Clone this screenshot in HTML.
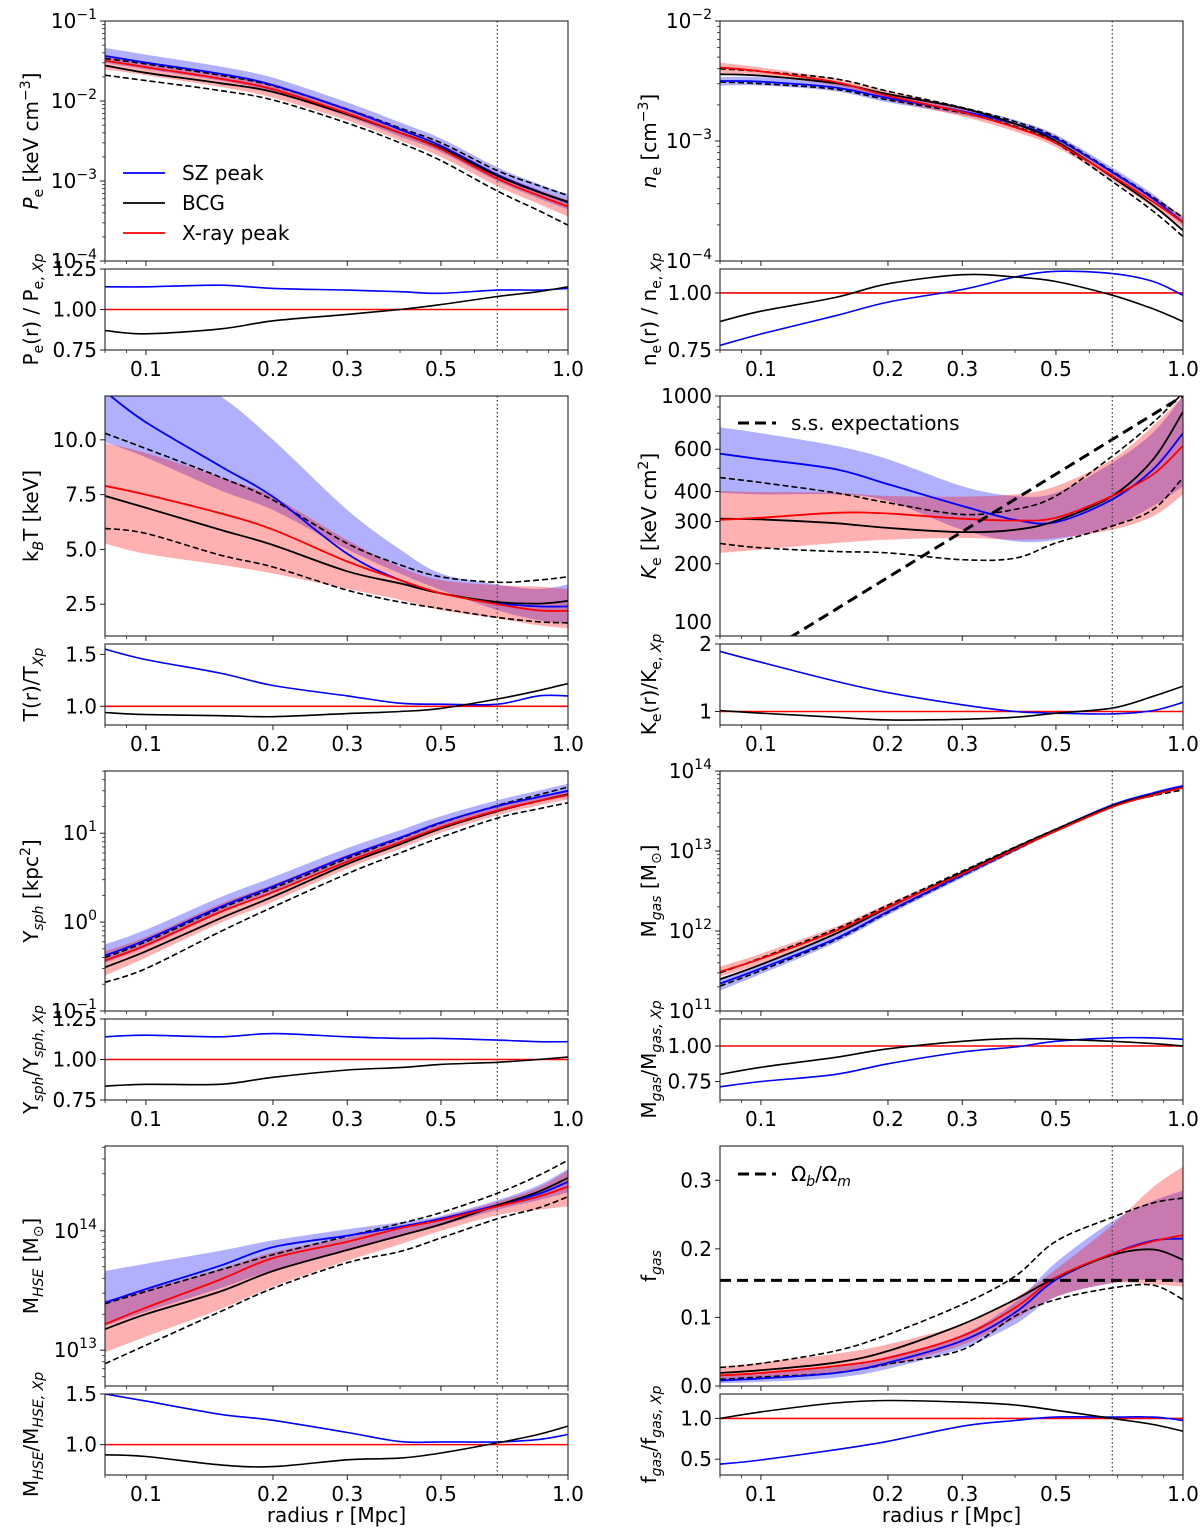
<!DOCTYPE html>
<html><head><meta charset="utf-8"><style>
html,body{margin:0;padding:0;background:#fff;}
svg{display:block;font-family:"DejaVu Sans","Liberation Sans",sans-serif;}
</style></head><body>
<svg id="fig" xmlns="http://www.w3.org/2000/svg" width="1200" height="1530" viewBox="0 0 1200 1530"></svg>
<script>
const R = [0.08,0.1,0.15,0.2,0.3,0.4,0.5,0.68,0.85,1.0];
const r500 = [0.68];
// Pressure
const pe_xp = [0.032,0.0265,0.019,0.014,0.0070,0.0040,0.0025,0.00107,0.00066,0.00048];
const pe_sz = [0.0365,0.0302,0.0219,0.0158,0.0078,0.0044,0.00275,0.0012,0.00074,0.00054];
const pe_bcg = [0.0278,0.0225,0.0167,0.013,0.0068,0.004,0.00258,0.00116,0.00073,0.00055];
const pe_dhi = [0.034,0.029,0.021,0.0155,0.0079,0.0046,0.003,0.00135,0.00088,0.00066];
const pe_dlo = [0.021,0.018,0.0135,0.0103,0.0053,0.003,0.0018,0.00075,0.00043,0.00028];
const pe_bhi = [0.046,0.038,0.027,0.0195,0.0096,0.0054,0.0034,0.00148,0.00092,0.00068];
const pe_blo = [0.03,0.025,0.018,0.013,0.0064,0.0036,0.0023,0.001,0.00061,0.00044];
const pe_rhi = [0.038,0.031,0.022,0.0163,0.0082,0.0047,0.0029,0.00125,0.00078,0.00058];
const pe_rlo = [0.025,0.021,0.015,0.011,0.0057,0.0032,0.002,0.00086,0.00052,0.00036];
const pe_rsz = [1.14,1.14,1.15,1.13,1.12,1.11,1.10,1.12,1.12,1.13];
const pe_rbcg = [0.87,0.85,0.88,0.93,0.97,1.0,1.03,1.08,1.11,1.14];
// Density
const ne_xp = [0.0041,0.0038,0.0031,0.00237,0.00174,0.0013,0.00096,0.00051,0.00031,0.00021];
const ne_sz = [0.00316,0.00312,0.00279,0.00228,0.00177,0.00139,0.00105,0.00055,0.00033,0.00021];
const ne_bcg = [0.0036,0.0035,0.00304,0.00246,0.00188,0.00139,0.001,0.0005,0.00029,0.00018];
const ne_dhi = [0.0040,0.0038,0.0033,0.0026,0.0019,0.00145,0.00108,0.00056,0.00034,0.00023];
const ne_dlo = [0.0031,0.003,0.0027,0.0022,0.00172,0.00132,0.00096,0.00046,0.00026,0.00016];
const ne_bhi = [0.0034,0.0034,0.003,0.00245,0.0019,0.0015,0.00113,0.0006,0.00036,0.00023];
const ne_blo = [0.0029,0.0029,0.0026,0.0021,0.00165,0.0013,0.00097,0.00051,0.00031,0.0002];
const ne_rhi = [0.0045,0.0041,0.0033,0.0026,0.0019,0.0014,0.00103,0.00055,0.00034,0.00024];
const ne_rlo = [0.0037,0.0035,0.0029,0.0022,0.0016,0.0012,0.00089,0.00047,0.00028,0.00019];
const ne_rsz = [0.77,0.82,0.90,0.96,1.015,1.07,1.095,1.085,1.05,0.99];
const ne_rbcg = [0.875,0.92,0.98,1.04,1.08,1.07,1.05,0.99,0.93,0.875];
// Temperature
const t_xp = [7.9,7.5,6.65,5.9,4.45,3.6,3.0,2.5,2.22,2.2];
const t_sz = [12.2,10.8,8.8,7.4,4.8,3.6,3.0,2.55,2.4,2.4];
const t_bcg = [7.44,6.9,5.9,5.2,4.0,3.45,3.0,2.6,2.53,2.65];
const t_dhi = [10.3,9.6,8.3,7.25,5.27,4.3,3.75,3.5,3.6,3.75];
const t_dlo = [5.96,5.73,4.74,4.2,3.14,2.6,2.3,1.9,1.7,1.65];
const t_bhi = [14,14,12,10.0,6.8,5.0,3.9,3.4,3.2,3.4];
const t_blo = [9.9,9.2,7.7,6.8,5.0,3.9,3.15,2.23,1.77,1.6];
const t_rhi = [9.85,9.4,8.3,7.4,5.43,4.2,3.6,3.37,3.3,3.2];
const t_rlo = [5.27,4.8,4.3,3.9,3.2,2.7,2.23,1.85,1.54,1.4];
const t_rsz = [1.55,1.45,1.32,1.2,1.1,1.03,1.02,1.02,1.1,1.1];
const t_rbcg = [0.94,0.92,0.91,0.9,0.93,0.95,0.98,1.07,1.15,1.22];
// Entropy
const k_xp = [305,311,326,324,308,303,311,383,472,620];
const k_sz = [575,545,496,429,348,305,298,371,495,700];
const k_bcg = [308,306,295,282,271,277,302,383,545,859];
const k_dhi = [457,436,395,359,321,337,383,562,776,1030];
const k_dlo = [243,233,225,222,208,211,244,287,337,457];
const k_bhi = [740,700,620,545,421,383,395,527,705,1000];
const k_blo = [395,389,389,365,277,248,252,287,348,421];
const k_rhi = [402,398,395,383,381,389,421,545,751,1000];
const k_rlo = [222,229,244,252,256,252,256,277,316,389];
const k_rsz = [1.89,1.73,1.45,1.28,1.1,1.0,0.975,0.965,1.015,1.135];
const k_rbcg = [1.015,0.975,0.915,0.875,0.885,0.915,0.975,1.05,1.225,1.375];
const ss_r = [0.1,1.0];
const ss_k = [83,1000];
// Ysph
const y_xp = [0.37,0.55,1.3,2.17,4.8,7.9,11.7,18,23,27];
const y_sz = [0.42,0.63,1.48,2.52,5.47,8.9,13.2,20.2,25.5,30];
const y_bcg = [0.31,0.47,1.1,1.93,4.5,7.5,11.3,17.7,23,27.4];
const y_dhi = [0.40,0.6,1.42,2.4,5.2,8.7,13,20.5,27,33];
const y_dlo = [0.21,0.3,0.78,1.48,3.5,6.0,9.0,14.8,18.8,22];
const y_bhi = [0.56,0.82,1.9,3.2,6.8,10.8,15.6,23.5,30,36];
const y_blo = [0.35,0.52,1.25,2.15,4.7,7.7,11.5,17.7,22.5,26];
const y_rhi = [0.47,0.68,1.6,2.65,5.7,9.2,13.5,20.5,26,30];
const y_rlo = [0.25,0.4,0.98,1.7,4.0,6.7,10.1,16,20.5,24];
const y_rsz = [1.14,1.15,1.14,1.16,1.14,1.13,1.13,1.12,1.11,1.11];
const y_rbcg = [0.836,0.847,0.847,0.89,0.935,0.95,0.97,0.983,1.0,1.015];
// Mgas
const mg_xp = [3.1e11,4.5e11,1.0e12,2.0e12,5.2e12,1.05e13,1.78e13,3.55e13,5.0e13,6.2e13];
const mg_sz = [2.2e11,3.4e11,8e11,1.75e12,5e12,1.04e13,1.84e13,3.75e13,5.3e13,6.5e13];
const mg_bcg = [2.5e11,3.8e11,9.2e11,1.96e12,5.4e12,1.1e13,1.86e13,3.67e13,5.1e13,6.2e13];
const mg_dhi = [3.0e11,4.6e11,1.05e12,2.1e12,5.6e12,1.12e13,1.88e13,3.7e13,5.2e13,6.4e13];
const mg_dlo = [2.05e11,3.2e11,7.7e11,1.7e12,4.9e12,1.02e13,1.8e13,3.6e13,4.9e13,5.8e13];
const mg_bhi = [2.5e11,3.8e11,9e11,1.95e12,5.4e12,1.1e13,1.93e13,3.9e13,5.5e13,6.8e13];
const mg_blo = [1.8e11,2.9e11,7.1e11,1.58e12,4.6e12,9.8e12,1.75e13,3.6e13,5.1e13,6.2e13];
const mg_rhi = [3.6e11,5.2e11,1.13e12,2.2e12,5.5e12,1.09e13,1.84e13,3.65e13,5.15e13,6.4e13];
const mg_rlo = [2.7e11,3.9e11,8.9e11,1.82e12,4.9e12,1.0e13,1.72e13,3.45e13,4.85e13,6.0e13];
const mg_rsz = [0.713,0.75,0.80,0.875,0.958,0.993,1.033,1.057,1.057,1.047];
const mg_rbcg = [0.80,0.85,0.92,0.98,1.033,1.052,1.047,1.033,1.017,1.0];
// MHSE
const mh_xp = [1.65e13,2.27e13,3.9e13,5.9e13,8.1e13,1.05e14,1.23e14,1.6e14,1.93e14,2.34e14];
const mh_sz = [2.5e13,3.25e13,5.1e13,7.3e13,9.1e13,1.08e14,1.26e14,1.64e14,2.03e14,2.57e14];
const mh_bcg = [1.5e13,2.0e13,3.1e13,4.6e13,6.9e13,9.1e13,1.13e14,1.63e14,2.12e14,2.77e14];
const mh_dhi = [2.45e13,3.1e13,4.7e13,6.3e13,9.0e13,1.15e14,1.42e14,2.06e14,2.9e14,3.9e14];
const mh_dlo = [7.7e12,1.1e13,2.1e13,3.3e13,5.4e13,6.7e13,8.7e13,1.26e14,1.55e14,1.93e14];
const mh_bhi = [4.6e13,5.3e13,6.8e13,8.3e13,1.03e14,1.18e14,1.33e14,1.8e14,2.4e14,3.3e14];
const mh_blo = [1.6e13,2.1e13,3.3e13,4.7e13,7.0e13,9.0e13,1.1e14,1.5e14,1.8e14,2.1e14];
const mh_rhi = [2.6e13,3.2e13,4.8e13,6.6e13,8.8e13,1.1e14,1.3e14,1.75e14,2.3e14,3.2e14];
const mh_rlo = [9.6e12,1.3e13,2.2e13,3.4e13,5.6e13,7.7e13,1.0e14,1.35e14,1.5e14,1.6e14];
const mh_rsz = [1.5,1.43,1.3,1.24,1.12,1.03,1.027,1.027,1.05,1.1];
const mh_rbcg = [0.9,0.883,0.8,0.783,0.85,0.867,0.917,1.017,1.1,1.183];
// fgas
const fg_xp = [0.0155,0.019,0.029,0.041,0.073,0.114,0.158,0.193,0.211,0.22];
const fg_sz = [0.008,0.011,0.019,0.034,0.066,0.107,0.155,0.193,0.212,0.215];
const fg_bcg = [0.019,0.023,0.034,0.051,0.09,0.126,0.158,0.191,0.199,0.184];
const fg_dhi = [0.027,0.033,0.051,0.075,0.119,0.16,0.211,0.246,0.267,0.274];
const fg_dlo = [0.0097,0.013,0.019,0.032,0.053,0.102,0.126,0.143,0.147,0.126];
const fg_bhi = [0.016,0.02,0.028,0.043,0.075,0.122,0.18,0.24,0.27,0.285];
const fg_blo = [0.004,0.006,0.012,0.025,0.055,0.09,0.13,0.15,0.155,0.15];
const fg_rhi = [0.028,0.034,0.047,0.061,0.09,0.128,0.17,0.235,0.29,0.32];
const fg_rlo = [0.009,0.012,0.02,0.03,0.06,0.098,0.13,0.15,0.148,0.145];
const fg_rsz = [0.44,0.49,0.615,0.72,0.905,0.975,1.017,1.017,1.017,0.975];
const fg_rbcg = [1.0,1.08,1.19,1.22,1.2,1.165,1.1,1.0,0.926,0.843];
const omega_ratio = [0.154];
const xMajor = [0.1,0.2,0.3,0.5,1.0];
const xMajorLabels = ['0.1','0.2','0.3','0.5','1.0'];
const xMinor = [0.08,0.09,0.4,0.6,0.7,0.8,0.9];

const NS='http://www.w3.org/2000/svg';
const svg=document.getElementById('fig');
function mk(tag,attrs,parent){const e=document.createElementNS(NS,tag);for(const k in attrs)e.setAttribute(k,attrs[k]);(parent||svg).appendChild(e);return e;}
function pathD(p){let d='M'+p[0][0].toFixed(1)+','+p[0][1].toFixed(1);for(let i=0;i<p.length-1;i++){const p0=p[i-1]||p[i],p1=p[i],p2=p[i+1],p3=p[i+2]||p2;const c1=[p1[0]+(p2[0]-p0[0])/6,p1[1]+(p2[1]-p0[1])/6];const c2=[p2[0]-(p3[0]-p1[0])/6,p2[1]-(p3[1]-p1[1])/6];d+=' C'+c1[0].toFixed(1)+','+c1[1].toFixed(1)+' '+c2[0].toFixed(1)+','+c2[1].toFixed(1)+' '+p2[0].toFixed(1)+','+p2[1].toFixed(1);}return d;}
function pathCont(p){return pathD(p).replace(/^M/,'L');}
function addLabel(el,segs){for(const s of segs){const t=mk('tspan',{},el);t.textContent=s[0];if(s[1]==='sub'){t.setAttribute('font-size','14');t.setAttribute('dy','5');}else if(s[1]==='sup'){t.setAttribute('font-size','14');t.setAttribute('dy','-8');}if(s[2])t.setAttribute('font-style','italic');if(s[1]){const b=mk('tspan',{dy:s[1]==='sub'?'-5':'8'},el);b.textContent='\u200b';}}}

let clipId=0;
function axes(col,top,bot,cfg){
  const x0=col?720:105,x1=col?1183:568;
  const lx0=Math.log10(0.08);
  const X=r=>x0+(Math.log10(r)-lx0)/(0-lx0)*(x1-x0);
  const Y=v=>{const t=cfg.log?Math.log10(v):v;return bot-(t-cfg.lim[0])/(cfg.lim[1]-cfg.lim[0])*(bot-top);};
  const g=mk('g',{});
  
  
  const id='c'+(clipId++);
  const cp=mk('clipPath',{id:id},g);mk('rect',{x:x0,y:top,width:x1-x0,height:bot-top},cp);
  const plot=mk('g',{'clip-path':'url(#'+id+')'},g);
  return {X,Y,g,plot,x0,x1,top,bot};
}
function band(ax,lo,hi,color,name){
  const up=R.map((r,i)=>[ax.X(r),ax.Y(hi[i])]);
  const dn=R.map((r,i)=>[ax.X(r),ax.Y(lo[i])]).reverse();
  const p=mk('path',{d:pathD(up)+' '+pathCont(dn)+' Z',fill:color,stroke:'none'},ax.plot);
  
  
}
function line(ax,xs,vals,color,w,dash,name){
  const pts=xs.map((r,i)=>[ax.X(r),ax.Y(vals[i])]);
  const p=mk('path',{d:pathD(pts),fill:'none',stroke:color,'stroke-width':w},ax.plot);
  if(dash)p.setAttribute('stroke-dasharray',dash);
  
  
}
function hline(ax,v,color,w,dash,name){
  const p=mk('line',{x1:ax.x0,x2:ax.x1,y1:ax.Y(v),y2:ax.Y(v),stroke:color,'stroke-width':w},ax.plot);
  if(dash)p.setAttribute('stroke-dasharray',dash);
  
  
}
function vline(ax){
  const p=mk('line',{x1:ax.X(r500[0]),x2:ax.X(r500[0]),y1:ax.top,y2:ax.bot,stroke:'#444','stroke-width':1.3,'stroke-dasharray':'1.5,2.5'},ax.plot);
  
  
}
function frame(ax,showX){
  const f=mk('rect',{x:ax.x0,y:ax.top,width:ax.x1-ax.x0,height:ax.bot-ax.top,fill:'none',stroke:'#222','stroke-width':1.1},ax.g);
  
  
  for(const r of xMajor){mk('line',{x1:ax.X(r),x2:ax.X(r),y1:ax.bot,y2:ax.bot+5,stroke:'#222','stroke-width':1},ax.g);}
  for(const r of xMinor){mk('line',{x1:ax.X(r),x2:ax.X(r),y1:ax.bot,y2:ax.bot+3,stroke:'#222','stroke-width':0.8},ax.g);}
  if(showX){xMajor.forEach((r,i)=>{const t=mk('text',{x:ax.X(r),y:ax.bot+26,'font-size':20,'text-anchor':'middle'},ax.g);t.textContent=xMajorLabels[i];});}
}
function yticks(ax,cfg){
  if(cfg.log){
    for(let d=Math.floor(cfg.lim[0]);d<=Math.ceil(cfg.lim[1]);d++){for(let m=2;m<=9;m++){const v=m*Math.pow(10,d);const lv=Math.log10(v);if(lv<cfg.lim[0]||lv>cfg.lim[1])continue;if(cfg.ticks.some(t=>Math.abs(Math.log10(t[0])-lv)<1e-6))continue;mk('line',{x1:ax.x0-3,x2:ax.x0,y1:ax.Y(v),y2:ax.Y(v),stroke:'#222','stroke-width':0.8},ax.g);}}
  }
  for(const t of cfg.ticks){
    const y=ax.Y(t[0]);
    mk('line',{x1:ax.x0-5,x2:ax.x0,y1:y,y2:y,stroke:'#222','stroke-width':1},ax.g);
    const tx=mk('text',{x:ax.x0-8,y:y+7+(t[2]||0),'font-size':20,'text-anchor':'end'},ax.g);
    
    
    if(typeof t[1]==='object'){const a=mk('tspan',{},tx);a.textContent='10';const b=mk('tspan',{'font-size':14,dy:-9},tx);b.textContent=t[1][0];}
    else tx.textContent=t[1];
  }
}
function ylabel(ax,col,segs,name){
  const x=col?656:38;const y=(ax.top+ax.bot)/2;
  const t=mk('text',{x:0,y:0,'font-size':20,'text-anchor':'middle',transform:'translate('+x+','+y+') rotate(-90)'},ax.g);
  
  
  addLabel(t,segs);
}
const sci=e=>[e];
const panels=[
 {col:0,row:0,name:'pressure',log:true,lim:[-4,-1],ticks:[[1e-4,sci('\u22124')],[1e-3,sci('\u22123')],[1e-2,sci('\u22122')],[1e-1,sci('\u22121')]],
  d:[pe_xp,pe_sz,pe_bcg,pe_dhi,pe_dlo,pe_bhi,pe_blo,pe_rhi,pe_rlo],rs:[pe_rsz,pe_rbcg],rlim:[0.75,1.25],rticks:[[0.75,'0.75'],[1.0,'1.00'],[1.25,'1.25']],
  lab:[['P','',1],['e','sub'],[' [keV cm'],['\u22123','sup'],[']']],rlab:[['P'],['e','sub'],['(r) / P'],['e, ','sub'],['Xp','sub',1]]},
 {col:1,row:0,name:'density',log:true,lim:[-4,-2],ticks:[[1e-4,sci('\u22124')],[1e-3,sci('\u22123')],[1e-2,sci('\u22122')]],
  d:[ne_xp,ne_sz,ne_bcg,ne_dhi,ne_dlo,ne_bhi,ne_blo,ne_rhi,ne_rlo],rs:[ne_rsz,ne_rbcg],rlim:[0.75,1.105],rticks:[[0.75,'0.75'],[1.0,'1.00']],
  lab:[['n','',1],['e','sub'],[' [cm'],['\u22123','sup'],[']']],rlab:[['n'],['e','sub'],['(r) / n'],['e, ','sub'],['Xp','sub',1]]},
 {col:0,row:1,name:'temperature',log:false,lim:[1.05,12],ticks:[[2.5,'2.5'],[5,'5.0'],[7.5,'7.5'],[10,'10.0']],
  d:[t_xp,t_sz,t_bcg,t_dhi,t_dlo,t_bhi,t_blo,t_rhi,t_rlo],rs:[t_rsz,t_rbcg],rlim:[0.82,1.6],rticks:[[1.0,'1.0'],[1.5,'1.5']],
  lab:[['k'],['B','sub',1],['T [keV]']],rlab:[['T(r)/T'],['Xp','sub',1]]},
 {col:1,row:1,name:'entropy',log:true,lim:[2,3],ticks:[[100,'100',-14],[200,'200'],[300,'300'],[400,'400'],[600,'600'],[1000,'1000']],
  d:[k_xp,k_sz,k_bcg,k_dhi,k_dlo,k_bhi,k_blo,k_rhi,k_rlo],rs:[k_rsz,k_rbcg],rlim:[0.8,2.0],rticks:[[1,'1'],[2,'2']],
  lab:[['K','',1],['e','sub'],[' [keV cm'],['2','sup'],[']']],rlab:[['K'],['e','sub'],['(r)/K'],['e, ','sub'],['Xp','sub',1]]},
 {col:0,row:2,name:'ysph',log:true,lim:[-1,1.70],ticks:[[0.1,sci('\u22121')],[1,sci('0')],[10,sci('1')]],
  d:[y_xp,y_sz,y_bcg,y_dhi,y_dlo,y_bhi,y_blo,y_rhi,y_rlo],rs:[y_rsz,y_rbcg],rlim:[0.75,1.25],rticks:[[0.75,'0.75'],[1.0,'1.00'],[1.25,'1.25']],
  lab:[['Y'],['sph','sub',1],[' [kpc'],['2','sup'],[']']],rlab:[['Y'],['sph','sub',1],['/Y'],['sph, ','sub',1],['Xp','sub',1]]},
 {col:1,row:2,name:'gas-mass',log:true,lim:[11,14],ticks:[[1e11,sci('11')],[1e12,sci('12')],[1e13,sci('13')],[1e14,sci('14')]],
  d:[mg_xp,mg_sz,mg_bcg,mg_dhi,mg_dlo,mg_bhi,mg_blo,mg_rhi,mg_rlo],rs:[mg_rsz,mg_rbcg],rlim:[0.62,1.19],rticks:[[0.75,'0.75'],[1.0,'1.00']],
  lab:[['M'],['gas','sub',1],[' [M'],['\u2299','sub'],[']']],rlab:[['M'],['gas','sub',1],['/M'],['gas, ','sub',1],['Xp','sub',1]]},
 {col:0,row:3,name:'hse-mass',log:true,lim:[12.70,14.71],ticks:[[1e13,sci('13')],[1e14,sci('14')]],
  d:[mh_xp,mh_sz,mh_bcg,mh_dhi,mh_dlo,mh_bhi,mh_blo,mh_rhi,mh_rlo],rs:[mh_rsz,mh_rbcg],rlim:[0.70,1.5],rticks:[[1.0,'1.0'],[1.5,'1.5']],
  lab:[['M'],['HSE','sub',1],[' [M'],['\u2299','sub'],[']']],rlab:[['M'],['HSE','sub',1],['/M'],['HSE, ','sub',1],['Xp','sub',1]]},
 {col:1,row:3,name:'gas-fraction',log:false,lim:[0,0.35],ticks:[[0,'0.0'],[0.1,'0.1'],[0.2,'0.2'],[0.3,'0.3']],
  d:[fg_xp,fg_sz,fg_bcg,fg_dhi,fg_dlo,fg_bhi,fg_blo,fg_rhi,fg_rlo],rs:[fg_rsz,fg_rbcg],rlim:[0.306,1.30],rticks:[[0.5,'0.5'],[1.0,'1.0']],
  lab:[['f'],['gas','sub',1]],rlab:[['f'],['gas','sub',1],['/f'],['gas, ','sub',1],['Xp','sub',1]]}
];
const BLUE='#0000ff',RED='#ff0000',BBAND='rgba(0,0,255,0.31)',RBAND='rgba(255,0,0,0.31)';
for(const P of panels){
  const T=21+375*P.row;
  const ax=axes(P.col,T,T+240,{log:P.log,lim:P.lim,name:P.name+'-panel'});
  const [xp,sz,bcg,dhi,dlo,bhi,blo,rhi,rlo]=P.d;
  band(ax,blo,bhi,BBAND,'sz-peak-band');
  band(ax,rlo,rhi,RBAND,'xray-peak-band');
  line(ax,R,dhi,'#000',1.6,'6,3','bcg-upper-dashed');
  line(ax,R,dlo,'#000',1.6,'6,3','bcg-lower-dashed');
  line(ax,R,sz,BLUE,1.8,null,'sz-peak-line');
  line(ax,R,bcg,'#000',1.8,null,'bcg-line');
  line(ax,R,xp,RED,1.8,null,'xray-peak-line');
  if(P.name==='entropy'){line(ax,ss_r,ss_k,'#000',3,'11,6','self-similar-expectation');}
  if(P.name==='gas-fraction'){hline(ax,omega_ratio[0],'#000',3,'11,6','cosmic-baryon-fraction');}
  vline(ax);
  frame(ax,false);
  yticks(ax,{log:P.log,lim:P.lim,ticks:P.ticks});
  ylabel(ax,P.col,P.lab,P.name+'-y-label');
  const rx=axes(P.col,T+248,T+329,{log:false,lim:P.rlim,name:P.name+'-ratio-panel'});
  hline(rx,1,RED,1.6,null,'xray-reference-line');
  line(rx,R,P.rs[0],BLUE,1.6,null,'sz-ratio-line');
  line(rx,R,P.rs[1],'#000',1.6,null,'bcg-ratio-line');
  vline(rx);
  frame(rx,true);
  yticks(rx,{log:false,lim:P.rlim,ticks:P.rticks});
  ylabel(rx,P.col,P.rlab,P.name+'-ratio-y-label');
  if(P.row===3){const t=mk('text',{x:(rx.x0+rx.x1)/2,y:1522,'font-size':20,'text-anchor':'middle'});t.textContent='radius r [Mpc]';}
}
// legends
const lg=mk('g',{});


[['SZ peak',BLUE,173],['BCG','#000',203],['X-ray peak',RED,233]].forEach(e=>{
  const l=mk('line',{x1:123,x2:165,y1:e[2],y2:e[2],stroke:e[1],'stroke-width':1.8},lg);
  
  
  const t=mk('text',{x:182,y:e[2]+7,'font-size':20},lg);t.textContent=e[0];
  
  
});
[[423,'s.s. expectations'],[1174,null]].forEach(e=>{
  const l=mk('line',{x1:738,x2:776,y1:e[0],y2:e[0],stroke:'#000','stroke-width':3,'stroke-dasharray':'11,6'},lg);
  
  
  const t=mk('text',{x:791,y:e[0]+7,'font-size':20},lg);
  
  
  if(e[1])t.textContent=e[1];else addLabel(t,[['\u03a9'],['b','sub',1],['/\u03a9'],['m','sub',1]]);
});
</script>
</body></html>
